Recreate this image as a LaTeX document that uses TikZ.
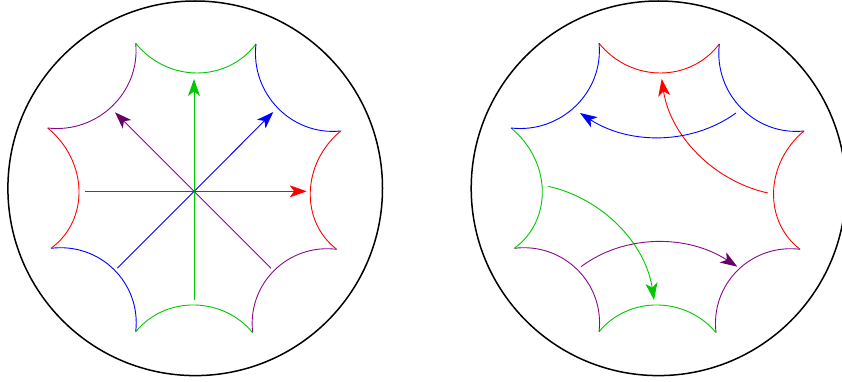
\documentclass[tikz,border=0pt]{standalone}
\usetikzlibrary{arrows.meta,calc}
\definecolor{cred}{RGB}{255,0,0}
\definecolor{cgreen}{RGB}{0,200,0}
\definecolor{cblue}{RGB}{0,0,255}
\definecolor{cpurple}{RGB}{135,10,140}
\definecolor{cpurplehead}{RGB}{102,0,102}
\tikzset{
  disc/.style={draw=black,line width=1.5pt},
  edge/.style={line width=0.9pt},
  flow/.style={line width=0.9pt,-{Stealth[length=17pt,width=12pt,inset=4.5pt]}},
  flowp/.style={line width=0.9pt,-{Stealth[length=17pt,width=12pt,inset=4.5pt,fill=cpurplehead,color=cpurplehead]}},
}
% circular-looking cubic from #2 through #3 to #4; #1 = (1-t^2)/3
\newcommand{\qc}[4]{(#2) .. controls ($(#2)!#1!(#4)+1.3333*(#3)-0.6667*(#2)-0.6667*(#4)$) and ($(#4)!#1!(#2)+1.3333*(#3)-0.6667*(#2)-0.6667*(#4)$) .. (#4)}
\newcommand{\rim}[1]{%
  \coordinate (A) at ($(135.7,43.3)+(#1,0)$);
  \coordinate (B) at ($(256,44)+(#1,0)$);
  \coordinate (C) at ($(340.7,131)+(#1,0)$);
  \coordinate (D) at ($(336.7,249.3)+(#1,0)$);
  \coordinate (E) at ($(252.7,332.7)+(#1,0)$);
  \coordinate (F) at ($(135.7,331.7)+(#1,0)$);
  \coordinate (G) at ($(51,248.3)+(#1,0)$);
  \coordinate (H) at ($(47.7,128)+(#1,0)$);
  \coordinate (mAB) at ($(196.7,73)+(#1,0)$);
  \coordinate (mBC) at ($(277.8,108)+(#1,0)$);
  \coordinate (mCD) at ($(310.3,191.7)+(#1,0)$);
  \coordinate (mDE) at ($(274.2,270.5)+(#1,0)$);
  \coordinate (mEF) at ($(194,305)+(#1,0)$);
  \coordinate (mFG) at ($(113.9,269.5)+(#1,0)$);
  \coordinate (mGH) at ($(79,190)+(#1,0)$);
  \coordinate (mHA) at ($(112.2,106.2)+(#1,0)$);
}
\begin{document}
\begin{tikzpicture}[x=1pt,y=-1pt]
\useasboundingbox (0,0) rectangle (842,382);
\clip (0,0) rectangle (842,382);
% left disc
\node[disc,circle,minimum size=374.6pt,inner sep=0pt] (leftdisc) at (195.2,188.3) {};
\rim{0}
\draw[edge,cgreen] \qc{0.256}{A}{mAB}{B};
\draw[edge,cblue] \qc{0.256}{B}{mBC}{C};
\draw[edge,cred] \qc{0.256}{C}{mCD}{D};
\draw[edge,cpurple] \qc{0.256}{D}{mDE}{E};
\draw[edge,cgreen] \qc{0.256}{E}{mEF}{F};
\draw[edge,cblue] \qc{0.256}{F}{mFG}{G};
\draw[edge,cred] \qc{0.256}{G}{mGH}{H};
\draw[edge,cpurple] \qc{0.256}{H}{mHA}{A};
\coordinate (r1) at (85.3,191.3); \coordinate (r2) at (306.7,191.3);
\coordinate (g1) at (194,299.7); \coordinate (g2) at (194,79);
\coordinate (b1) at (117.3,268.3); \coordinate (b2) at (273.3,112);
\coordinate (p1) at (271,268.3); \coordinate (p2) at (115,112.3);
\draw[flowp,cpurple] (p1) -- (p2);
\draw[flow,cblue] (b1) -- (b2);
\draw[flow,cgreen] (g1) -- (g2);
\draw[flow,cred] (r1) -- (r2);
% right disc
\node[disc,circle,minimum size=374.6pt,inner sep=0pt] (rightdisc) at (658.5,188.3) {};
\rim{463.33}
\draw[edge,cred] \qc{0.256}{A}{mAB}{B};
\draw[edge,cblue] \qc{0.256}{B}{mBC}{C};
\draw[edge,cred] \qc{0.256}{C}{mCD}{D};
\draw[edge,cpurple] \qc{0.256}{D}{mDE}{E};
\draw[edge,cgreen] \qc{0.256}{E}{mEF}{F};
\draw[edge,cpurple] \qc{0.256}{F}{mFG}{G};
\draw[edge,cgreen] \qc{0.256}{G}{mGH}{H};
\draw[edge,cblue] \qc{0.256}{H}{mHA}{A};
\coordinate (sb1) at (736,113); \coordinate (sbm) at (660,137); \coordinate (sb2) at (580,113);
\coordinate (sr1) at (767.7,193); \coordinate (srm) at (697.2,152.3); \coordinate (sr2) at (661.7,79);
\coordinate (sg1) at (548.3,186.3); \coordinate (sgm) at (618.7,226.9); \coordinate (sg2) at (654,300);
\coordinate (sp1) at (581,266.7); \coordinate (spm) at (656.7,242.3); \coordinate (sp2) at (737.3,266.7);
\draw[flow,cgreen] \qc{0.3}{sg1}{sgm}{sg2};
\draw[flowp,cpurple] \qc{0.3}{sp1}{spm}{sp2};
\draw[flow,cred] \qc{0.3}{sr1}{srm}{sr2};
\draw[flow,cblue] \qc{0.3}{sb1}{sbm}{sb2};
\end{tikzpicture}
\end{document}
